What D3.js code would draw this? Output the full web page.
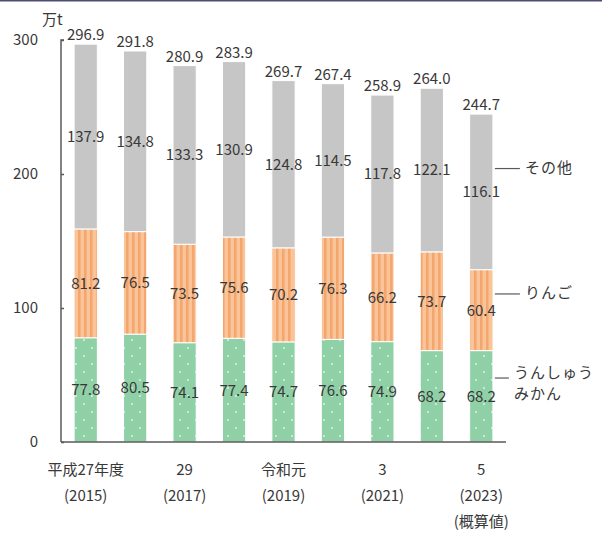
<!DOCTYPE html>
<html><head><meta charset="utf-8">
<script src="https://cdn.jsdelivr.net/npm/d3@7"></script>
<style>body{margin:0;background:#fff;} svg{display:block;}</style>
</head><body>
<svg id="c" width="602" height="533"></svg>
<script>
const categories = ["2015","2016","2017","2018","2019","2020","2021","2022","2023"];
const mikan = [77.8,80.5,74.1,77.4,74.7,76.6,74.9,68.2,68.2];
const ringo = [81.2,76.5,73.5,75.6,70.2,76.3,66.2,73.7,60.4];
const other = [137.9,134.8,133.3,130.9,124.8,114.5,117.8,122.1,116.1];
const totals = [296.9,291.8,280.9,283.9,269.7,267.4,258.9,264.0,244.7];
const yTicks = [0,100,200,300];
const xLabels = [
  {cat:"2015", lines:["平成27年度","(2015)"]},
  {cat:"2017", lines:["29","(2017)"]},
  {cat:"2019", lines:["令和元","(2019)"]},
  {cat:"2021", lines:["3","(2021)"]},
  {cat:"2023", lines:["5","(2023)","(概算値)"]}
];
const seriesNames = ["うんしゅうみかん","りんご","その他"];

const font = "'Noto Sans CJK JP','Noto Sans',sans-serif";
const fs = 15;
const txt = "#383838";
const svg = d3.select("#c");
const defs = svg.append("defs");
// top frame edge seen in the reference
svg.append("rect").attr("x",0).attr("y",0).attr("width",602).attr("height",1.5).attr("fill","#4b4d72");
// orange stripes
const po = defs.append("pattern").attr("id","pOrange").attr("patternUnits","userSpaceOnUse")
  .attr("width",6).attr("height",6);
po.append("rect").attr("width",6).attr("height",6).attr("fill","#f9c497");
po.append("rect").attr("x",0).attr("width",2.5).attr("height",6).attr("fill","#f5a56e");
// green dots
const pg = defs.append("pattern").attr("id","pGreen").attr("patternUnits","userSpaceOnUse")
  .attr("width",16).attr("height",16);
pg.append("rect").attr("width",16).attr("height",16).attr("fill","#8fd0a7");
pg.append("circle").attr("cx",4).attr("cy",4).attr("r",0.9).attr("fill","#e6f6eb");
pg.append("circle").attr("cx",12).attr("cy",12).attr("r",0.9).attr("fill","#e6f6eb");

const x0 = 61, x1 = 506, yBase = 442, yTop = 40;
const x = d3.scaleBand().domain(categories).range([x0, x1]).paddingInner(0.53).paddingOuter(0.265);
const y = d3.scaleLinear().domain([0,300]).range([yBase, yTop]);

const fills = ["url(#pGreen)","url(#pOrange)","#c6c6c6"];
const data = categories.map((c,i)=>({cat:c, mikan:mikan[i], ringo:ringo[i], other:other[i]}));
const stack = d3.stack().keys(["mikan","ringo","other"])(data);

const g = svg.append("g");
stack.forEach((s,si)=>{
  g.selectAll(null).data(s).enter().append("rect")
    .attr("x", d=>x(d.data.cat))
    .attr("width", x.bandwidth())
    .attr("y", d=>y(d[1]))
    .attr("height", d=>y(d[0])-y(d[1]))
    .attr("fill", fills[si])
    .attr("stroke","#fff").attr("stroke-width",1);
  g.selectAll(null).data(s).enter().append("text")
    .attr("x", d=>x(d.data.cat)+x.bandwidth()/2)
    .attr("y", d=>(y(d[0])+y(d[1]))/2)
    .attr("dy","0.36em")
    .attr("text-anchor","middle")
    .attr("font-family",font).attr("font-size",fs).attr("fill",txt)
    .text(d=>(d[1]-d[0]).toFixed(1));
});
// totals
g.selectAll(null).data(categories).enter().append("text")
  .attr("x", c=>x(c)+x.bandwidth()/2)
  .attr("y", (c,i)=>y(totals[i])-4)
  .attr("text-anchor","middle")
  .attr("font-family",font).attr("font-size",fs).attr("fill",txt)
  .text((c,i)=>totals[i].toFixed(1));

// y axis
const yAxis = d3.axisRight(y).tickValues(yTicks).tickSize(3).tickFormat("");
const ya = svg.append("g").attr("transform",`translate(${x0},0)`).call(yAxis);
ya.select(".domain").attr("stroke","#595959").attr("stroke-width",1.5).attr("d",`M3,${yTop}H0V${yBase}`);
ya.selectAll(".tick line").attr("stroke","#595959").attr("stroke-width",1.5);
svg.selectAll(null).data(yTicks).enter().append("text")
  .attr("x",38).attr("y",d=>y(d)).attr("dy","0.36em").attr("text-anchor","end")
  .attr("font-family",font).attr("font-size",fs).attr("fill",txt).text(d=>d);
svg.append("text").attr("x",42).attr("y",25).attr("font-family",font).attr("font-size",fs)
  .attr("fill",txt).text("万t");

// x axis
svg.append("line").attr("x1",x0).attr("x2",x1).attr("y1",yBase).attr("y2",yBase)
  .attr("stroke","#595959").attr("stroke-width",1.5);
xLabels.forEach(l=>{
  l.lines.forEach((ln,k)=>{
    svg.append("text").attr("text-anchor","middle").attr("font-family",font)
      .attr("font-size",fs).attr("fill",txt)
      .attr("x", x(l.cat)+x.bandwidth()/2).attr("y", 475+k*26).text(ln);
  });
});

// legend
const last = categories[categories.length-1];
const li = categories.length-1;
const lx1 = x(last)+x.bandwidth()+2;
const legItems = [
  {y: y(mikan[li]+ringo[li]+other[li]*0.65), lines:["その他"], len:25, dy:0},
  {y: y(mikan[li]+ringo[li]*0.7), lines:["りんご"], len:25, dy:0},
  {y: y(mikan[li]*0.7), lines:["うんしゅう","みかん"], len:14, dy:-5}
];
legItems.forEach(it=>{
  svg.append("line").attr("x1",lx1).attr("x2",lx1+it.len).attr("y1",it.y).attr("y2",it.y)
    .attr("stroke","#595959").attr("stroke-width",1.2);
  it.lines.forEach((ln,k)=>{
    svg.append("text").attr("font-family",font).attr("font-size",fs).attr("fill",txt)
      .attr("letter-spacing",1)
      .attr("x",lx1+it.len+5).attr("y",it.y+it.dy+k*21).attr("dy","0.3em").text(ln);
  });
});
</script>
</body></html>
